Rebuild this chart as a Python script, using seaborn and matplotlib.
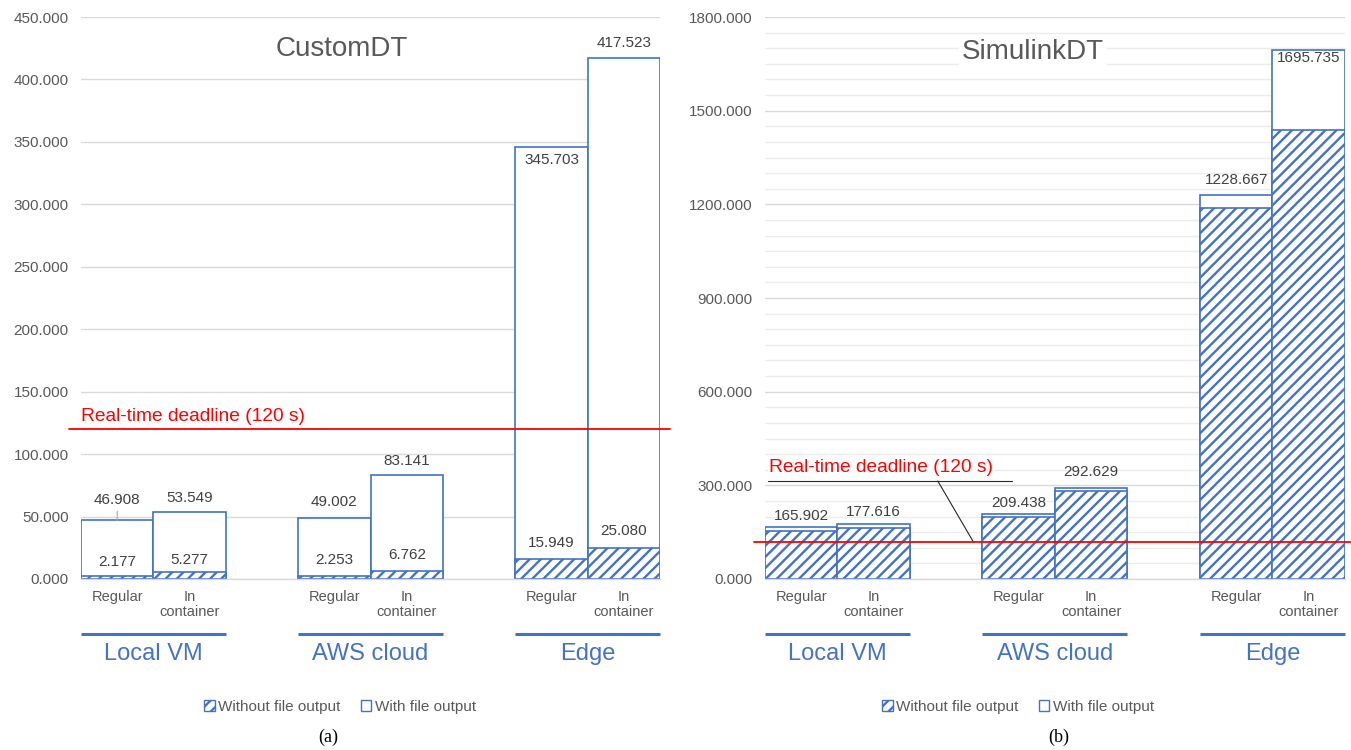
import numpy as np
import pandas as pd
import matplotlib
matplotlib.use("Agg")
import matplotlib.pyplot as plt
import seaborn as sns
from matplotlib.patches import Patch
from matplotlib.ticker import MultipleLocator, FuncFormatter

# ---- data -------------------------------------------------------------
platforms = ["Local VM", "AWS cloud", "Edge"]
setups = ["Regular", "In container"]
setup_labels = ["Regular", "In\ncontainer"]

custom_without = [2.177, 5.277, 2.253, 6.762, 15.949, 25.080]
custom_with = [46.908, 53.549, 49.002, 83.141, 345.703, 417.523]

simulink_without = [155.0, 164.0, 198.0, 281.0, 1189.0, 1439.0]
simulink_with = [165.902, 177.616, 209.438, 292.629, 1228.667, 1695.735]

deadline = 120

# ---- style ------------------------------------------------------------
BLUE = "#4472C4"
GRID = "#D9D9D9"
MINOR = "#ECECEC"
TICK = "#595959"
LABEL = "#404040"
RED = "#FF0000"

sns.set_theme(style="white")
plt.rcParams["font.family"] = ["Liberation Sans", "DejaVu Sans"]
plt.rcParams["hatch.linewidth"] = 1.7
plt.rcParams["hatch.color"] = BLUE


def frame(values):
    return pd.DataFrame({
        "platform": np.repeat(platforms, 2),
        "setup": setups * len(platforms),
        "time": values,
    })


def draw_layer(ax, values, hatch=None):
    n0 = len(ax.patches)
    sns.barplot(data=frame(values), x="platform", y="time", hue="setup",
                order=platforms, hue_order=setups,
                palette=["white", "white"], saturation=1, width=2 / 3,
                edgecolor=BLUE, linewidth=1.2, errorbar=None,
                legend=False, ax=ax)
    bars = sorted(ax.patches[n0:], key=lambda p: p.get_x())
    if hatch:
        for b in bars:
            b.set_hatch(hatch)
    return bars


def label_bars(ax, bars, values, offsets, **kw):
    for b, v, off in zip(bars, values, offsets):
        ax.annotate(f"{v:.3f}", xy=(b.get_x() + b.get_width() / 2, v),
                    xytext=(0, off), textcoords="offset points",
                    ha="center", va="center", fontsize=11, color=LABEL,
                    zorder=6, **kw)


def decorate(ax, bars, ymax, ystep, title, title_pos, title_box):
    ax.set_xlim(-1 / 3, len(platforms) - 2 / 3)
    ax.set_ylim(0, ymax)
    ax.yaxis.set_major_locator(MultipleLocator(ystep))
    ax.yaxis.set_major_formatter(FuncFormatter(lambda v, _: f"{v:.3f}"))
    ax.tick_params(axis="y", length=0, pad=9, labelsize=11, labelcolor=TICK)
    ax.set_xticks([])
    ax.set_xlabel("")
    ax.set_ylabel("")
    ax.yaxis.grid(True, which="major", color=GRID, lw=1.0)
    ax.set_axisbelow(True)
    for s in ("left", "right", "top"):
        ax.spines[s].set_visible(False)
    ax.spines["bottom"].set_color(GRID)
    ax.spines["bottom"].set_linewidth(1.0)

    trans = ax.get_xaxis_transform()
    for i, b in enumerate(bars):
        cx = b.get_x() + b.get_width() / 2
        ax.text(cx, -0.020, setup_labels[i % 2], transform=trans,
                ha="center", va="top", fontsize=10.5, color=TICK,
                linespacing=1.1)
    for k, name in enumerate(platforms):
        left = bars[2 * k].get_x()
        right = bars[2 * k + 1].get_x() + bars[2 * k + 1].get_width()
        ax.plot([left, right], [-0.097, -0.097], transform=trans,
                clip_on=False, color=BLUE, lw=2.2, solid_capstyle="butt")
        ax.text((left + right) / 2, -0.133, name, transform=trans,
                ha="center", va="center", fontsize=17, color=BLUE)

    bbox = dict(facecolor="white", edgecolor="none", pad=2) if title_box else None
    ax.text(*title_pos, title, transform=ax.transAxes, ha="center",
            va="center", fontsize=20, color=TICK, bbox=bbox, zorder=4)


fig = plt.figure(figsize=(13.51, 7.5), dpi=100)
ax_l = fig.add_axes([0.060, 0.228, 0.4286, 0.7493])
ax_r = fig.add_axes([0.5662, 0.228, 0.4293, 0.7493])

# ---- (a) CustomDT ------------------------------------------------------
with_l = draw_layer(ax_l, custom_with)
without_l = draw_layer(ax_l, custom_without, hatch="///")
decorate(ax_l, with_l, 450, 50, "CustomDT", (0.451, 0.943), False)
ax_l.axhline(deadline, xmin=-0.021, xmax=1.017, color=RED, lw=1.3,
             clip_on=False, zorder=5)
ax_l.text(0.0, 130, "Real-time deadline (120 s)",
          transform=ax_l.get_yaxis_transform(), ha="left", va="center",
          fontsize=13.8, color=RED)

label_bars(ax_l, with_l[1:], custom_with[1:], [10, 11.5, 10, -9.5, 10.5])
b0 = with_l[0]
ax_l.annotate(f"{custom_with[0]:.3f}",
              xy=(b0.get_x() + b0.get_width() / 2, custom_with[0]),
              xytext=(0, 15), textcoords="offset points", ha="center",
              va="center", fontsize=11, color=LABEL, zorder=6,
              arrowprops=dict(arrowstyle="-", color="#A6A6A6", lw=0.8,
                              shrinkA=1, shrinkB=0))
label_bars(ax_l, without_l, custom_without, [10, 9, 12, 11, 11.5, 12])

# ---- (b) SimulinkDT ----------------------------------------------------
with_r = draw_layer(ax_r, simulink_with)
without_r = draw_layer(ax_r, simulink_without, hatch="///")
decorate(ax_r, with_r, 1800, 300, "SimulinkDT", (0.462, 0.938), True)
ax_r.yaxis.set_minor_locator(MultipleLocator(50))
ax_r.yaxis.grid(True, which="minor", color=MINOR, lw=1.0)
ax_r.tick_params(axis="y", which="minor", length=0)
ax_r.axhline(deadline, xmin=-0.019, xmax=1.014, color=RED, lw=1.3,
             clip_on=False, zorder=5)
ytr = ax_r.get_yaxis_transform()
ax_r.text(0.007, 356, "Real-time deadline (120 s)", transform=ytr,
          ha="left", va="center", fontsize=13.8, color=RED, zorder=4,
          bbox=dict(facecolor="white", edgecolor="none", pad=0.5))
ax_r.plot([0.005, 0.426], [314, 314], transform=ytr, color="#262626",
          lw=0.8, zorder=4)
ax_r.plot([0.298, 0.359], [314, deadline], transform=ytr, color="#262626",
          lw=0.8, zorder=4)
label_bars(ax_r, with_r, simulink_with, [8, 8, 8, 11, 11, -6])

# ---- legends and captions ---------------------------------------------
handles = [Patch(facecolor="white", edgecolor=BLUE, hatch="///", lw=1.0),
           Patch(facecolor="white", edgecolor=BLUE, lw=1.0)]
names = ["Without file output", "With file output"]
for cx in (340 / 1351, 1018 / 1351):
    leg = fig.legend(handles, names, loc="center",
                     bbox_to_anchor=(cx, (750 - 707) / 750), ncol=2,
                     frameon=False, fontsize=11, handlelength=0.7,
                     handleheight=0.7, handletextpad=0.25, columnspacing=1.3)
    for t in leg.get_texts():
        t.set_color(TICK)

fig.text(328 / 1351, (750 - 737) / 750, "(a)", family="Liberation Serif",
         fontsize=13, ha="center", va="center", color="black")
fig.text(1059 / 1351, (750 - 737) / 750, "(b)", family="Liberation Serif",
         fontsize=13, ha="center", va="center", color="black")

fig.savefig("out.png", dpi=100, facecolor="white")
